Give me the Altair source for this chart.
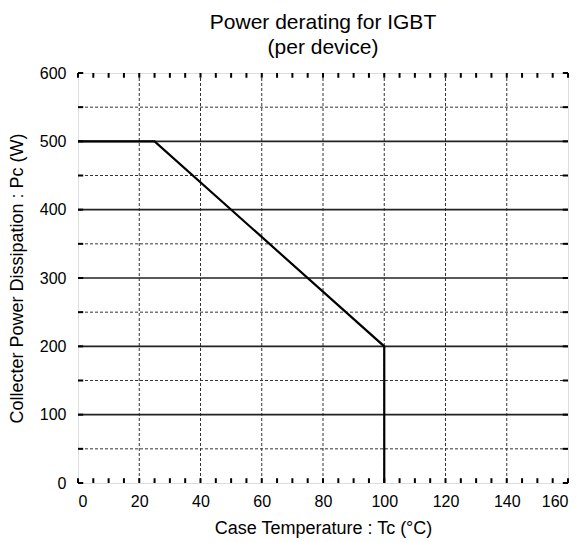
import altair as alt
import pandas as pd

# Derating curve
temp = [0, 25, 100, 100]
power = [500, 500, 200, 0]

x_ticks = [0, 20, 40, 60, 80, 100, 120, 140, 160]
y_ticks = [0, 100, 200, 300, 400, 500, 600]
grid_solid_y = [100, 200, 300, 400, 500]
grid_dot_y = [50, 150, 250, 350, 450, 550]
grid_dot_x = [20, 40, 60, 80, 100, 120, 140]
minor_x = list(range(0, 161, 5))
minor_y = list(range(0, 601, 50))

W, H = 490, 410
FONT = "Liberation Sans"

xs = alt.Scale(domain=[0, 160], nice=False)
ys = alt.Scale(domain=[0, 600], nice=False)

curve_df = pd.DataFrame({"t": temp, "p": power, "o": list(range(len(temp)))})

base_axes = alt.Chart(curve_df).mark_line(opacity=0).encode(
    x=alt.X("t:Q", scale=xs, title="Case Temperature : Tc (°C)",
            axis=alt.Axis(values=x_ticks, grid=False, tickSize=0, labelPadding=10,
                          domain=False, labelFont=FONT, labelFontSize=16, labelColor="black",
                          titleFont=FONT, titleFontSize=18, titleFontWeight="normal",
                          titleColor="black", titlePadding=10)),
    y=alt.Y("p:Q", scale=ys, title="Collecter Power Dissipation : Pc (W)",
            axis=alt.Axis(values=y_ticks, grid=False, tickSize=0, labelPadding=12,
                          domain=False, labelFont=FONT, labelFontSize=16, labelColor="black",
                          titleFont=FONT, titleFontSize=18, titleFontWeight="normal",
                          titleColor="black", titlePadding=13)),
)

dot_y = alt.Chart(pd.DataFrame({"y": grid_dot_y})).mark_rule(
    color="#333", strokeWidth=1, strokeDash=[3, 2]).encode(y=alt.Y("y:Q", scale=ys))
dot_x = alt.Chart(pd.DataFrame({"x": grid_dot_x})).mark_rule(
    color="#333", strokeWidth=1, strokeDash=[3, 2]).encode(x=alt.X("x:Q", scale=xs))
solid_y = alt.Chart(pd.DataFrame({"y": grid_solid_y})).mark_rule(
    color="#222", strokeWidth=1.6).encode(y=alt.Y("y:Q", scale=ys))

tick_len_y = 7   # in data units of y (~5px)
tick_len_x = 1.7  # in data units of x (~5px)

mx = pd.DataFrame({"x": minor_x})
bot_ticks = alt.Chart(mx).mark_rule(color="black", strokeWidth=2).encode(
    x=alt.X("x:Q", scale=xs), y=alt.datum(0), y2=alt.datum(tick_len_y))
top_ticks = alt.Chart(mx).mark_rule(color="black", strokeWidth=2).encode(
    x=alt.X("x:Q", scale=xs), y=alt.datum(600 - tick_len_y), y2=alt.datum(600))
my = pd.DataFrame({"y": minor_y})
left_ticks = alt.Chart(my).mark_rule(color="black", strokeWidth=2).encode(
    y=alt.Y("y:Q", scale=ys), x=alt.datum(0), x2=alt.datum(tick_len_x))
right_ticks = alt.Chart(my).mark_rule(color="black", strokeWidth=2).encode(
    y=alt.Y("y:Q", scale=ys), x=alt.datum(160 - tick_len_x), x2=alt.datum(160))

curve = alt.Chart(curve_df).mark_line(color="black", strokeWidth=2.2).encode(
    x=alt.X("t:Q", scale=xs), y=alt.Y("p:Q", scale=ys), order="o:Q")

chart = alt.layer(base_axes, dot_y, dot_x, solid_y, bot_ticks, top_ticks,
                  left_ticks, right_ticks, curve).properties(
    width=W, height=H,
    title=alt.TitleParams(["Power derating for IGBT", "(per device)"], font=FONT,
                          fontSize=21, fontWeight="normal", color="black",
                          anchor="middle", offset=7, lineHeight=25),
    autosize=alt.AutoSizeParams(type="none"),
    padding={"left": 70, "top": 65, "right": 8, "bottom": 59},
).configure_view(stroke="black", strokeWidth=2.5).configure(background="white")

chart.save("out.html", embed_options={"renderer": "svg", "actions": False})
